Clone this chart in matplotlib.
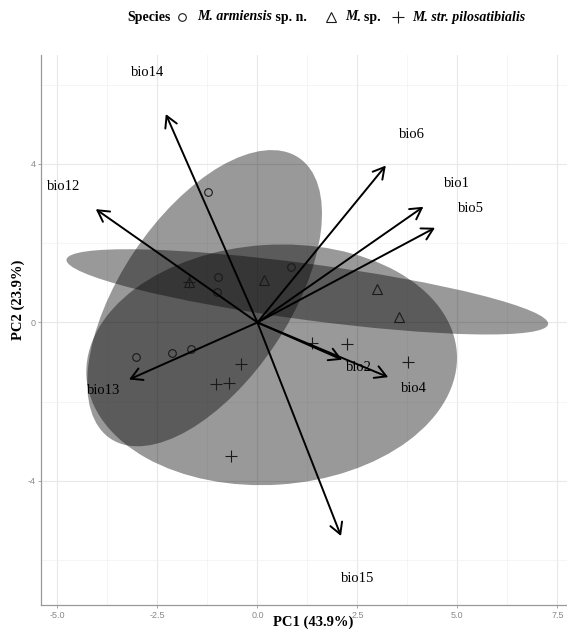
import matplotlib.pyplot as plt
from matplotlib.patches import Ellipse
from matplotlib.lines import Line2D
import numpy as np

plt.rcParams['font.family'] = 'Liberation Serif'
plt.rcParams['axes.unicode_minus'] = False

# PCA scores per species
arm_x = [-1.24, -0.99, -1.01, 0.84, -3.04, -2.14, -1.66]
arm_y = [3.30, 1.16, 0.78, 1.39, -0.88, -0.78, -0.68]
sp_x = [-1.70, 0.16, 3.00, 3.53]
sp_y = [1.03, 1.08, 0.85, 0.13]
pil_x = [-1.70, 1.36, 2.23, 3.77, -0.41, -1.04, -0.70, -0.66]
pil_y = [1.03, -0.53, -0.54, -1.00, -1.04, -1.56, -1.53, -3.38]

# variable loadings (arrow tips)
var_names = ['bio1', 'bio2', 'bio4', 'bio5', 'bio6', 'bio12', 'bio13', 'bio14', 'bio15']
load_x = [4.15, 2.12, 3.27, 4.44, 3.21, -4.04, -3.21, -2.29, 2.09]
load_y = [2.92, -0.94, -1.38, 2.39, 3.96, 2.86, -1.44, 5.26, -5.39]
label_scale = 1.2

xticks = [-5.0, -2.5, 0.0, 2.5, 5.0, 7.5]
yticks = [-4, 0, 4]


def add_ellipse(ax, x, y, level=0.95):
    x = np.array(x)
    y = np.array(y)
    vals, vecs = np.linalg.eigh(np.cov(x, y))
    r = np.sqrt(-2 * np.log(1 - level))
    ang = np.degrees(np.arctan2(vecs[1, 1], vecs[0, 1]))
    e = Ellipse((x.mean(), y.mean()), 2 * r * np.sqrt(vals[1]), 2 * r * np.sqrt(vals[0]),
                angle=ang, facecolor='black', alpha=0.4, edgecolor='none', zorder=1)
    ax.add_patch(e)


def write_pieces(fig, x, y, pieces, size=10):
    # draw text pieces one after another, each with its own style
    r = fig.canvas.get_renderer()
    for s, style in pieces:
        t = fig.text(x, y, s, ha='left', va='center', fontsize=size,
                     fontweight='bold', fontstyle=style)
        bb = t.get_window_extent(renderer=r)
        x += bb.width / fig.bbox.width


fig = plt.figure(figsize=(5.67, 6.3), dpi=100)
ax = fig.add_axes([41 / 567, 25 / 630, 526 / 567, 550 / 630])

for x, y in [(arm_x, arm_y), (sp_x, sp_y), (pil_x, pil_y)]:
    add_ellipse(ax, x, y)

mk = dict(linestyle='none', mfc='none', mec='#1a1a1a', mew=0.8, zorder=3)
ax.plot(arm_x, arm_y, marker='o', ms=5.5, **mk)
ax.plot(sp_x, sp_y, marker='^', ms=6.5, **mk)
ax.plot(pil_x, pil_y, marker='+', ms=8, **mk)

for name, lx, ly in zip(var_names, load_x, load_y):
    ax.annotate('', xy=(lx, ly), xytext=(0, 0),
                arrowprops=dict(arrowstyle='->,head_length=0.8,head_width=0.45', lw=1.4,
                                color='black', shrinkA=0, shrinkB=0, mutation_scale=10),
                zorder=4)
    ax.text(lx * label_scale, ly * label_scale, name, ha='center', va='center',
            fontsize=10.5, zorder=5)

ax.set_xlim(-5.41, 7.74)
ax.set_ylim(-7.13, 6.75)
ax.set_xticks(xticks)
ax.set_xticklabels(['%.1f' % v for v in xticks])
ax.set_yticks(yticks)
ax.set_yticklabels([str(v) for v in yticks])
ax.set_xticks([-3.75, -1.25, 1.25, 3.75, 6.25], minor=True)
ax.set_yticks([-6, -2, 2, 6], minor=True)
ax.grid(True, which='major', color='#e8e8e8', lw=0.8, zorder=0)
ax.grid(True, which='minor', color='#f1f1f1', lw=0.5, zorder=0)
ax.set_axisbelow(True)
ax.tick_params(which='major', length=2.5, width=0.6, color='#999999', labelcolor='#888888',
               labelsize=6.5, pad=1.5)
ax.tick_params(which='minor', length=0)
for lab in ax.get_xticklabels() + ax.get_yticklabels():
    lab.set_family('Liberation Sans')
for s in ['top', 'right']:
    ax.spines[s].set_visible(False)
for s in ['left', 'bottom']:
    ax.spines[s].set_color('#999999')
    ax.spines[s].set_linewidth(0.9)

fig.text(313 / 567, 1 - 622 / 630, 'PC1 (43.9%)', ha='center', va='center',
         fontsize=10.5, fontweight='bold')
fig.text(18 / 567, 1 - 300 / 630, 'PC2 (23.9%)', ha='center', va='center',
         fontsize=10.5, fontweight='bold', rotation=90)

# legend on top
ly = 1 - 17 / 630
fig.text(127 / 567, ly, 'Species', ha='left', va='center', fontsize=10, fontweight='bold')
leg_items = [('o', 5.5, 182, 197, [('M. armiensis', 'italic'), (' sp. n.', 'normal')]),
             ('^', 6.5, 331, 345, [('M', 'italic'), ('. sp.', 'normal')]),
             ('+', 8, 398, 412, [('M. str. pilosatibialis', 'italic')])]
for m, size, mx, tx, pieces in leg_items:
    fig.add_artist(Line2D([mx / 567], [ly], transform=fig.transFigure, marker=m, ms=size,
                          linestyle='none', mfc='none', mec='#1a1a1a', mew=0.8))
    write_pieces(fig, tx / 567, ly, pieces)

fig.savefig('out.png', dpi=100)
